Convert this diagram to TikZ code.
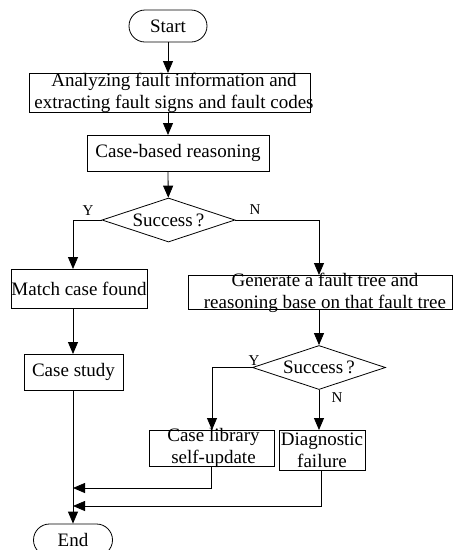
\documentclass[tikz,border=0pt]{standalone}
\usepackage{fontspec}
\setmainfont{Liberation Serif}
\usetikzlibrary{arrows.meta,shapes.geometric}
\begin{document}
\begin{tikzpicture}[x=1pt,y=-1pt,
  every node/.style={font=\fontsize{19}{22}\selectfont, inner sep=0pt},
  line/.style={line width=0.8pt, draw=black},
  flow/.style={line, -{Triangle[length=12pt,width=10pt]}},
  terminal/.style={line, draw, rectangle, rounded corners=16pt, minimum width=#1, minimum height=32pt},
  stepbox/.style={line, draw, rectangle, minimum width=#1},
  decision/.style={line, draw, diamond, aspect=3, minimum width=133pt, minimum height=44pt},
  tag/.style={font=\fontsize{15}{18}\selectfont}]
\useasboundingbox (0,0) rectangle (453,550);

% terminals
\node[terminal=78pt] (start) at (168,26) {Start};
\node[terminal=79pt] (end) at (73,540) {End};

% main column
\node[stepbox=281pt, minimum height=39pt] (info) at (169.5,92.5) {};
\node[align=center] (infotext) at (174,93) {Analyzing fault information and\\extracting fault signs and fault codes};
\node[stepbox=182pt, minimum height=36pt] (cbr) at (178,153) {};
\node (cbrtext) at (178,153) {Case-based reasoning};
\node[decision] (ok1) at (168.5,220) {Success\,?};

% left branch
\node[stepbox=136pt, minimum height=39pt] (match) at (79,288.5) {Match case found};
\node[stepbox=99pt, minimum height=36pt] (study) at (73.5,372) {Case study};

% right branch
\node[stepbox=264pt, minimum height=34pt] (tree) at (320.5,292) {};
\node[align=center] (treetext) at (325,293) {Generate a fault tree and\\reasoning base on that fault tree};
\node[decision] (ok2) at (319,367.5) {Success\,?};
\node[stepbox=125pt, minimum height=36pt] (lib) at (211.5,448) {};
\node[align=center] (libtext) at (213.5,448) {Case library\\self-update};
\node[stepbox=86pt, minimum height=40pt, align=center] (diag) at (322,450) {Diagnostic\\failure};

% fixed points of the connectors
\coordinate (j1) at (73,488);
\coordinate (j2) at (73,506);
\coordinate (infotop) at (168,73);
\coordinate (infobot) at (168,112);
\coordinate (cbrtop) at (168,135);
\coordinate (cbrbot) at (168,171);
\coordinate (matchtop) at (73,269);
\coordinate (matchbot) at (73,308);
\coordinate (studytop) at (73,354);
\coordinate (studybot) at (73,390);
\coordinate (treetop) at (319,275);
\coordinate (treebot) at (319,309);
\coordinate (libtop) at (212,430);
\coordinate (diagtop) at (319,430);
\coordinate (diagbot) at (321,470);

% connectors
\draw[flow] (start) -- (infotop);
\draw[flow] (infobot) -- (cbrtop);
\draw[flow] (cbrbot) -- (ok1);
\draw[flow] (ok1.west) -| (matchtop);
\draw[flow] (ok1.east) -| (treetop);
\draw[flow] (matchbot) -- (studytop);
\draw[flow] (treebot) -- (ok2);
\draw[flow] (ok2.west) -| (libtop);
\draw[flow] (ok2.south) -- (diagtop);
\draw[flow] (studybot) -- (end);
\draw[flow] (lib.south) |- (j1);
\draw[flow] (diagbot) |- (j2);

% branch tags
\node[tag] (y1) at (88,211) {Y};
\node[tag] (n1) at (255,210) {N};
\node[tag] (y2) at (254,361) {Y};
\node[tag] (n2) at (337,398) {N};
\end{tikzpicture}
\end{document}
